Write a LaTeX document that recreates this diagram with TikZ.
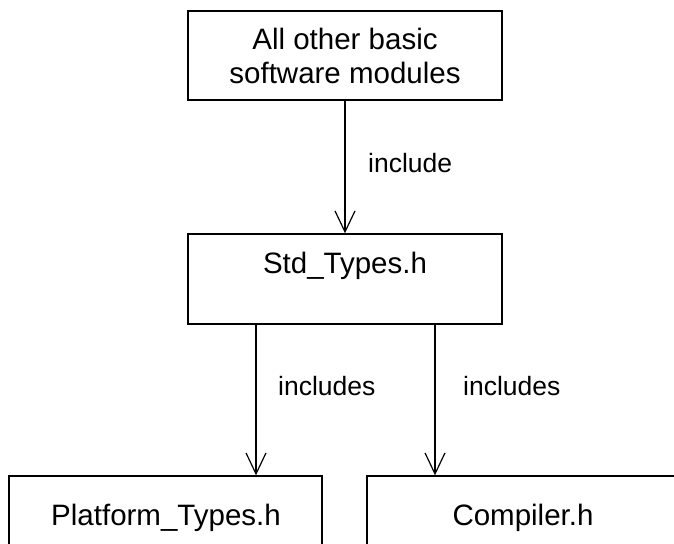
\documentclass[tikz,border=0pt]{standalone}
\usepackage{fontspec}
\setmainfont{Liberation Sans}
\usetikzlibrary{arrows.meta}
\begin{document}
\begin{tikzpicture}[x=1pt,y=-1pt,
  box/.style={draw=black,line width=1.4pt,rectangle,inner sep=0pt,minimum width=314pt,align=center},
  txt/.style={inner sep=0pt,anchor=base,font=\fontsize{29.5}{34}\selectfont},
  lbl/.style={inner sep=0pt,anchor=base west,font=\fontsize{26.5}{34}\selectfont},
  arr/.style={line width=1.2pt,-{Straight Barb[length=21pt,width=20pt,line width=1.2pt]}}]
\useasboundingbox (0,0) rectangle (674,543);
\node[box,minimum height=89pt,font=\fontsize{29.5}{34}\selectfont] (top) at (345,55.5) {All other basic\\software modules};
\node[box,minimum height=90pt] (mid) at (345,279) {};
\node[box,minimum height=90pt,minimum width=313pt] (lb) at (165.5,521) {};
\node[box,minimum height=90pt,minimum width=313pt] (rb) at (523.5,521) {};
\node[txt] (midt) at (345,273) {Std\_Types.h};
\node[txt] (lbt) at (166,525) {Platform\_Types.h};
\node[txt] (rbt) at (523,525) {Compiler.h};
\draw[arr] (top.south) -- (mid.north);
\draw[arr] ([xshift=-89pt]mid.south) -- ([xshift=-89pt]mid.south |- lb.north);
\draw[arr] ([xshift=90pt]mid.south) -- ([xshift=90pt]mid.south |- rb.north);
\node[lbl] (l1) at (368,172) {include};
\node[lbl] (l2) at (278,395) {includes};
\node[lbl] (l3) at (463,395) {includes};
\end{tikzpicture}
\end{document}
